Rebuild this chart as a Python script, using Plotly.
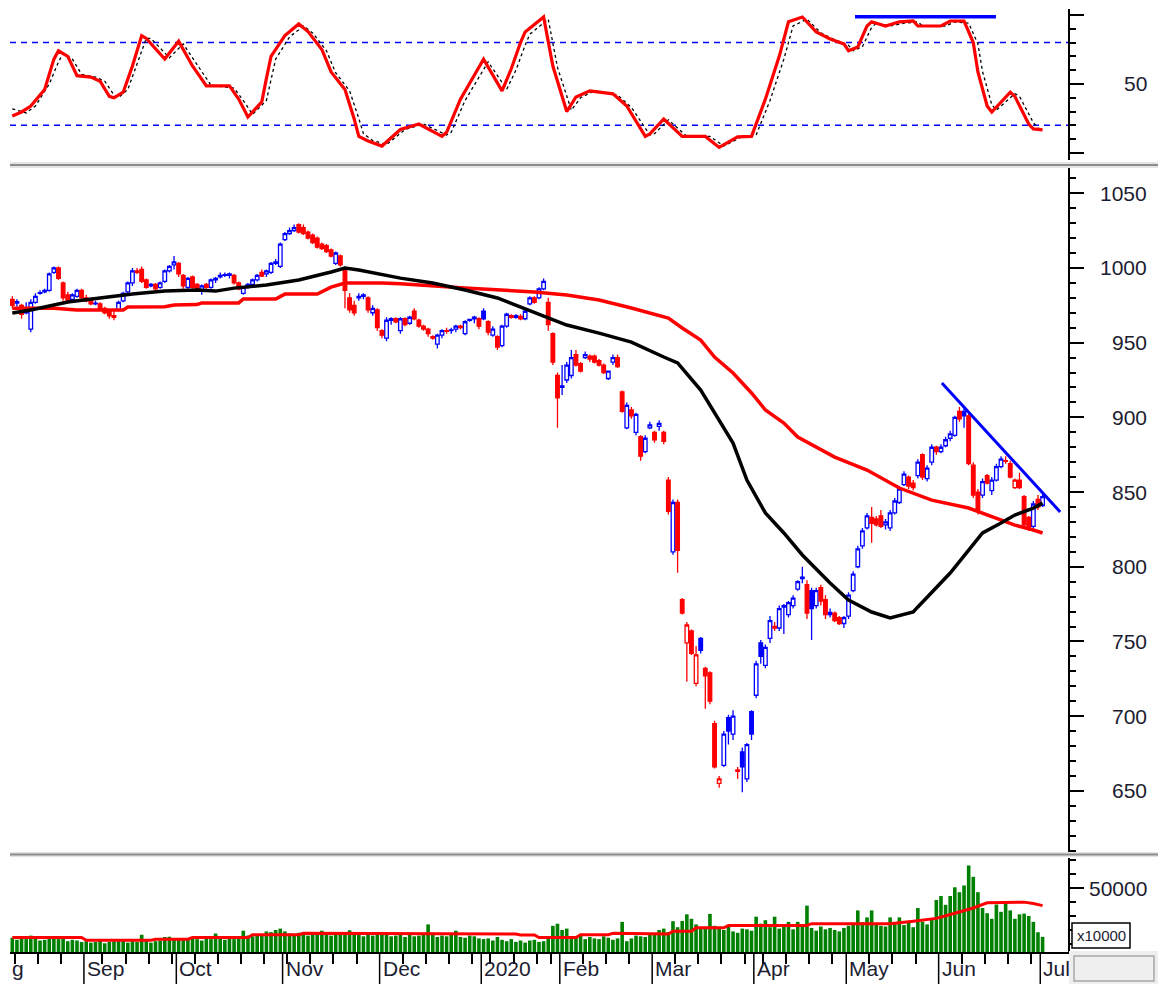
import pandas as pd
import plotly.graph_objects as go

# ---------------- calendar (trading days, HOSE) ----------------
holidays = ["2019-09-02", "2020-01-01", "2020-01-23", "2020-01-24", "2020-01-27",
            "2020-01-28", "2020-01-29", "2020-04-02", "2020-04-30", "2020-05-01"]
dates = pd.bdate_range("2019-08-09", "2020-07-01")
dates = dates[~dates.isin(pd.to_datetime(holidays))]

month_labels = ["Sep", "Oct", "Nov", "Dec", "2020", "Feb", "Mar", "Apr", "May", "Jun", "Jul"]

# ---------------- price data ----------------
open_ = [
    979, 976.5, 975, 970, 959, 977, 983, 984, 985, 997, 1000, 990, 982, 979, 981, 985,  # Aug
    980, 978, 976, 976, 973, 971, 968, 972, 978, 984, 990, 998, 999, 992, 988, 989, 987, 991, 998, 1002,  # Sep
    1003, 995, 987, 994, 989, 985, 989, 987, 992, 994, 995, 995, 995, 990, 983, 987, 989, 992, 997, 996, 997, 1003, 1001,  # Oct
    1019, 1023, 1025, 1029, 1027, 1024, 1022, 1020, 1016, 1015, 1012, 1003, 1008, 1000, 980, 975, 980, 981, 980, 970, 972,  # Nov
    958, 953, 965, 966, 958, 966, 963, 971, 965, 961, 959, 954, 949, 955, 958, 958, 959, 961, 956, 965, 966, 966,  # Dec
    971, 964, 955, 954, 948, 961, 968, 967, 967.5, 966, 976, 980, 980, 986, 977, 956, 928,  # Jan
    920, 925, 928, 942, 936, 940, 941, 941, 938, 935, 926, 937, 940, 917, 893, 905, 890, 887, 877, 893,  # Feb
    890, 894, 890, 858, 810, 843, 778, 749, 757, 722, 752, 732, 729, 695, 655, 667, 699, 688, 664, 676, 658, 703,  # Mar
    714, 749, 734, 752, 760, 759, 774, 768, 774, 785, 792, 788, 784, 774, 786, 778, 768, 769, 766, 762,  # Apr
    767, 784, 800, 814, 826, 833, 832, 834, 828, 826, 836, 843, 855, 860, 856, 861, 875, 859, 870, 880,  # May
    877, 881, 886, 888, 904, 904, 901, 868, 850, 848, 861, 851, 858, 867, 871, 869, 853, 858, 847, 833, 827, 845, 841,  # Jun-Jul
]
high = [
    981, 979, 976, 977, 979, 983, 985, 986, 997, 1001, 1001, 991, 984, 983, 986, 986,
    982, 980, 978, 977, 974, 972, 971, 978, 984, 991, 1000, 1000, 1001, 993, 990, 990, 991, 999, 1002, 1008,
    1004, 996, 994, 995, 990, 989, 990, 993, 994, 997, 997, 997, 996, 991, 988, 990, 993, 996, 999, 999, 1004, 1006, 1017,
    1024, 1027, 1029, 1030, 1029, 1025, 1023, 1021, 1017, 1016, 1013, 1011, 1009, 1001, 983, 978, 983, 983, 981, 975, 973,
    959, 967, 967, 967, 967, 967, 968, 973, 966, 962, 960, 955, 956, 959, 960, 960, 962, 962, 965, 966, 968, 967,
    973, 965, 961, 955, 962, 970, 969, 969, 969, 972, 981, 981, 987, 993, 980, 957, 930,
    935, 937, 945, 945, 937, 944, 942, 942, 939, 936, 931, 942, 942, 918, 910, 907, 903, 888, 888, 897,
    891, 898, 891, 860, 845, 845, 779, 763, 758, 747, 753, 733, 730, 697, 660, 690, 701, 704, 666, 679, 682, 704,
    737, 751, 748, 767, 763, 774, 775, 777, 781, 791, 800, 791, 786, 786, 788, 781, 772, 770, 767, 767,
    783, 797, 814, 826, 836, 840, 834, 838, 832, 838, 846, 854, 864, 861, 858, 872, 876, 868, 882, 881,
    882, 887, 891, 901, 907, 906, 903, 870, 852, 859, 862, 860, 869, 874, 874, 871, 859, 863, 848, 834, 844, 848, 849,
]
low = [
    973, 974, 966, 969, 957, 976, 982, 983, 984, 996, 992, 978, 976, 977, 980, 979,
    977, 975, 975, 972, 969, 966, 965, 971, 977, 983, 988, 996, 990, 986, 987, 985, 986, 990, 997, 999,
    994, 986, 986, 986, 985, 982, 986, 986, 990, 993, 994, 993, 989, 985, 982, 986, 988, 991, 994, 994, 996, 1002, 1000,
    1018, 1022, 1024, 1023, 1022, 1019, 1016, 1013, 1012, 1010, 1007, 1002, 1001, 973, 970, 968, 978, 979, 970, 968, 958,
    953, 951, 962, 963, 956, 961, 962, 965, 960, 958, 954, 952, 946, 953, 956, 956, 957, 959, 955, 964, 963, 959,
    965, 955, 954, 945, 947, 960, 966, 966, 965, 965, 975, 976, 979, 985, 958, 935, 893,
    915, 923, 926, 934, 930, 939, 937, 936, 934, 929, 925, 935, 933, 903, 892, 899, 888, 871, 876, 892,
    883, 891, 882, 835, 808, 796, 768, 723, 741, 720, 742, 705, 708, 665, 652, 666, 681, 684, 658, 649, 656, 684,
    712, 735, 732, 749, 757, 757, 755, 766, 772, 784, 789, 765, 751, 772, 774, 765, 766, 763, 761, 759,
    765, 783, 799, 812, 825, 816, 827, 826, 825, 824, 835, 842, 854, 852, 851, 859, 858, 857, 868, 875,
    876, 880, 884, 887, 897, 893, 868, 846, 835, 846, 855, 848, 857, 866, 869, 859, 852, 852, 826, 824, 825, 838, 840,
]
close = [
    975, 977.5, 969, 973, 977, 981, 983.5, 985, 996, 1000, 993, 980, 978, 982, 985, 980,
    978, 976, 976.5, 973, 970, 968, 967, 977, 983, 990, 998, 997, 991, 987, 989, 986, 990, 998, 1001, 1004,
    996, 988, 993, 987, 986, 988, 987, 992, 993, 995, 995.5, 996, 990, 986, 987, 989, 992, 995, 994.5, 998, 1003, 1004, 1016,
    1023, 1025, 1027, 1024, 1023, 1020, 1017, 1014, 1013, 1011, 1008, 1010, 1002, 985, 972, 970, 981, 982, 972, 973, 960,
    955, 965, 966, 964, 966, 962, 967, 966, 961, 959, 956, 953, 955, 958, 957.5, 958.5, 961, 960, 964, 965.5, 967, 961,
    966, 957, 959, 947, 961, 969, 967, 968, 966, 971, 980, 977, 986, 991, 962, 937, 913,
    921, 935, 940, 935, 931, 942, 939, 937, 935, 930, 931, 940, 934, 904, 908, 901, 902, 874, 886, 895,
    885, 896, 884, 837, 843, 811, 769, 761, 742, 741, 744, 727, 710, 666, 658, 688, 690, 700, 663, 666, 681, 688,
    735, 740, 746, 764, 759, 772, 773, 776, 779, 790, 793, 769, 772, 784, 777, 768, 769.5, 764, 762, 766,
    781, 795, 812, 824, 834, 829, 828, 827, 830, 836, 844, 852, 862, 854, 853, 870, 860, 866, 880, 877,
    880, 885, 889, 900, 899, 901, 869, 848, 838, 857, 856, 858, 867, 872, 870.5, 860, 858, 853, 828, 825, 842, 840, 847,
]
volume = [
    14500, 13000, 15500, 13500, 16000, 14000, 12500, 13000, 15000, 14500, 13500, 15000, 12000, 13000, 12500, 11500,
    12000, 11000, 11500, 12500, 10500, 11500, 12000, 13000, 12500, 11000, 12000, 11500, 16600, 12500, 11000, 12000, 12500, 15000, 15200, 13500,
    13500, 14000, 13000, 14500, 13500, 12500, 14000, 13500, 17500, 14000, 13000, 14500, 13500, 15000, 19500, 16000, 15500, 16500, 17000, 19000, 18500, 20000, 21000,
    19000, 17500, 16500, 18000, 17000, 16000, 17500, 16500, 19500, 17000, 16000, 17500, 16500, 18000, 19800, 17000, 16500, 15500, 17000, 16000, 17500,
    16500, 17000, 15500, 16000, 17000, 15000, 16500, 15500, 16000, 17000, 24000, 16500, 15000, 16000, 15500, 16500, 19500, 15000, 14500, 16000, 15500, 14000,
    13500, 14000, 12500, 15000, 13000, 12000, 13500, 11500, 12500, 11000, 12500, 13000, 11500, 12000, 14000, 23000, 24500,
    20000, 21000, 15500, 14500, 16000, 13500, 15000, 14000, 13500, 15500, 14500, 13000, 14000, 25800, 12000, 14000, 16000, 15500, 15000, 17000,
    16500, 20000, 21000, 18500, 26300, 22000, 26500, 31200, 28000, 24000, 22000, 21000, 31500, 23000, 21500, 20000, 22500, 19000, 18000, 21000, 20500, 19500,
    29500, 24500, 27000, 22000, 29500, 21000, 22500, 25800, 20500, 25800, 23000, 37400, 21500, 19500, 22500, 20500, 21500, 20000, 19000, 21500,
    23000, 24000, 34000, 25500, 29000, 34000, 24000, 23000, 22500, 29000, 24500, 29000, 23500, 25000, 22000, 35700, 26000, 24000, 28000, 41400,
    44300, 38000, 44300, 50500, 47000, 51800, 66100, 58000, 47000, 35700, 32000, 28000, 38200, 33000, 39400, 34000, 28000, 31200, 31700, 30000, 25800, 18400, 15100,
]

# moving averages (trading-day index, value)
ma_black_x = [0, 4, 12, 19, 26, 33, 40, 44, 48, 55, 62, 69, 72, 75, 77, 84, 91, 98, 105, 110, 116, 120, 127, 134,
              141, 144, 149, 156, 159, 163, 167, 171, 177, 181, 186, 190, 195, 196, 203, 210, 214, 217, 221, 223]
ma_black_y = [969.8, 971.8, 977.2, 979.9, 982.5, 984.5, 985.2, 984.5, 986.5, 988.6, 991.9, 997.3, 999.9, 998.6, 997.3,
              993.2, 989.9, 985.2, 979.9, 973.8, 967.1, 961.8, 956.4, 950.4, 940.4, 936.4, 918.3, 882.8, 858.0, 836.0,
              822.6, 807.9, 789.1, 777.7, 769.7, 765.7, 769.7, 773.1, 795.8, 822.6, 829.3, 834.6, 839.3, 842.6]
ma_red_x = [0, 9, 14, 24, 25, 33, 35, 40, 41, 49, 50, 57, 59, 66, 69, 72, 80, 84, 98, 113, 120, 127, 134, 142, 145,
            149, 152, 156, 160, 163, 167, 170, 178, 185, 192, 199, 207, 214, 217, 221, 223]
ma_red_y = [973, 973, 971.8, 971.8, 973.9, 974, 975.2, 975.5, 976.6, 976.6, 979.2, 979.2, 982.5, 982.5, 987.2, 989.9,
            989.9, 989.5, 986.6, 983.9, 981.9, 978.5, 973.2, 966.5, 959.8, 951.7, 940.4, 929.7, 916.3, 904.9, 896.2,
            886.8, 873.4, 864.7, 852.7, 844.6, 839.3, 831.3, 827.9, 824.6, 822.6]

# oscillator (stochastic)
osc_x = [0, 2, 4, 7, 9, 10, 12, 14, 17, 19, 21, 22, 24, 26, 28, 29, 33, 36, 39, 42, 47, 49, 51, 54, 55, 56, 59, 62, 64,
         67, 69, 72, 74, 75, 77, 80, 84, 88, 93, 94, 97, 102, 106, 108, 110, 111, 115, 117, 120, 122, 125, 130, 133,
         137, 138, 141, 145, 150, 153, 157, 160, 163, 166, 168, 171, 174, 177, 180, 181, 183, 185, 186, 189, 192, 195,
         196, 201, 203, 206, 208, 209, 211, 212, 214, 216, 217, 220, 221, 223]
osc_k = [26.8, 29.7, 34, 46, 68, 74, 70, 56, 55, 52, 41, 40, 44, 63, 85, 83, 68, 81, 63, 48.6, 48.6, 39, 26, 37, 54, 70,
         85, 93.5, 88, 75, 58.7, 46, 24.6, 12, 8.7, 5, 17, 21, 12, 15, 39, 68, 45, 61, 80, 87.7, 98.5, 63, 30, 40.6, 45,
         42.8, 34, 12, 13.8, 24.6, 12, 12, 4, 11.6, 12, 39, 70, 95, 98.5, 87.7, 82.6, 79, 74, 76.8, 92, 95, 92, 95, 95.6,
         92, 92, 95.6, 95.6, 80, 58.7, 34, 29.7, 37, 44, 41, 21, 17.4, 16.7]
sig_x = [0, 3, 5, 8, 10, 11, 13, 15, 18, 20, 22, 23, 25, 27, 29, 30, 34, 37, 40, 43, 48, 50, 52, 55, 56, 57, 60, 63, 65,
         68, 70, 73, 75, 76, 78, 81, 85, 89, 94, 95, 98, 103, 107, 109, 111, 112, 116, 118, 121, 123, 126, 131, 134,
         138, 139, 142, 146, 151, 154, 158, 161, 164, 167, 169, 172, 175, 178, 181, 182, 184, 186, 187, 190, 193, 196,
         197, 202, 204, 207, 209, 210, 212, 213, 215, 217, 218, 221, 222, 223]
sig_d = [32, 29, 34, 50, 66, 72, 68, 57, 55, 52, 42, 40, 46, 64, 83, 83, 69, 79, 64, 49, 47, 38, 28, 38, 53, 68, 84, 92,
         87, 74, 58, 45, 25, 14, 9, 6, 17, 21, 13, 15, 38, 66, 46, 60, 78, 86, 97, 62, 31, 40, 45, 42, 33, 13, 14, 24,
         12, 12, 5, 12, 13, 38, 68, 92, 97, 87, 82, 78, 74, 77, 91, 94, 92, 94, 95, 92, 92, 95, 94, 79, 59, 35, 31, 37,
         43, 41, 22, 18, 17]
vol_ma_x = [0, 15, 16, 30, 31, 38, 39, 51, 52, 62, 63, 75, 76, 109, 110, 113, 114, 122, 123, 129, 130, 134, 135, 142,
            143, 147, 148, 154, 155, 172, 173, 190, 195, 200, 204, 208, 211, 216, 219, 221, 223]
vol_ma = [14600, 14600, 12700, 12700, 13400, 13400, 14600, 14600, 16600, 16600, 17600, 17600, 17100, 17100, 16400,
          16400, 14600, 14600, 16600, 16600, 17600, 17600, 17100, 17100, 19100, 19100, 21600, 21600, 23300, 23300,
          24500, 24500, 26300, 28300, 32000, 35700, 39400, 39900, 39900, 38900, 37400]

# hand-drawn trend lines (index, value)
trend_main_x = [201.2, 226.8]
trend_main_y = [923, 836.7]
trend_osc_x = [182.4, 212.9]
trend_osc_y = [98.6, 98.6]

# ---------------- derived positions ----------------
N = len(close)
xi = list(range(N))
month_start = [i for i in range(1, N) if dates[i].month != dates[i - 1].month]
week_start = [i for i in range(1, N)
              if dates[i].isocalendar()[1] != dates[i - 1].isocalendar()[1] and i not in month_start]

# The page body adds an 8px margin, so the figure is made 8px smaller and all
# screen positions below are given in screen pixels and shifted by OFF.
SW, SH = 1166, 984          # screen (window) size
OFF = 8
W, H = SW - OFF, SH - OFF   # figure size
L_PX, R_PX = 10, 1068       # plot-area edges in screen pixels


def py(p):  # screen row -> paper y
    return 1 - (p - OFF) / H


def px(p):  # screen column -> paper x
    return (p - L_PX) / (R_PX - L_PX)


BLUE, RED, GREEN = "#0000ff", "#ff0000", "#008000"
TXT = "#1c1c30"
FONT = "Liberation Sans, Arial, sans-serif"

fig = go.Figure()

# volume
fig.add_trace(go.Bar(x=xi, y=volume, width=0.78, marker=dict(color=GREEN, line=dict(width=0)),
                     yaxis="y3", hoverinfo="skip"))
fig.add_trace(go.Scatter(x=vol_ma_x, y=vol_ma, mode="lines", line=dict(color=RED, width=3),
                         yaxis="y3", hoverinfo="skip"))

# oscillator
fig.add_trace(go.Scatter(x=sig_x, y=sig_d, mode="lines", line=dict(color="black", width=1.3, dash="3px,3px"),
                         yaxis="y", hoverinfo="skip"))
fig.add_trace(go.Scatter(x=osc_x, y=osc_k, mode="lines", line=dict(color=RED, width=3.2),
                         yaxis="y", hoverinfo="skip"))
fig.add_trace(go.Scatter(x=trend_osc_x, y=trend_osc_y, mode="lines", line=dict(color=BLUE, width=3.5),
                         yaxis="y", hoverinfo="skip"))

# moving averages
fig.add_trace(go.Scatter(x=ma_red_x, y=ma_red_y, mode="lines", line=dict(color=RED, width=3.5),
                         yaxis="y2", hoverinfo="skip"))
fig.add_trace(go.Scatter(x=ma_black_x, y=ma_black_y, mode="lines", line=dict(color="black", width=3.5),
                         yaxis="y2", hoverinfo="skip"))

# candles: colour by close vs previous close, hollow when close > open
up = [i for i in range(1, N) if close[i] >= close[i - 1]]
dn = [i for i in range(N) if i not in up]
for sel, col in ((up, BLUE), (dn, RED)):
    fig.add_trace(go.Candlestick(
        x=[xi[i] for i in sel], open=[open_[i] for i in sel], high=[high[i] for i in sel],
        low=[low[i] for i in sel], close=[close[i] for i in sel],
        increasing=dict(line=dict(color=col, width=1.3), fillcolor="white"),
        decreasing=dict(line=dict(color=col, width=1.3), fillcolor=col),
        whiskerwidth=0, yaxis="y2", hoverinfo="skip"))

fig.add_trace(go.Scatter(x=trend_main_x, y=trend_main_y, mode="lines", line=dict(color=BLUE, width=3),
                         yaxis="y2", hoverinfo="skip"))

shapes = []
annotations = []

# oscillator reference levels
for lvl in (80, 20):
    shapes.append(dict(type="line", xref="paper", yref="y", x0=0, x1=1, y0=lvl, y1=lvl,
                       line=dict(color=BLUE, width=1.5, dash="6px,5px"), layer="below"))

# panel separators
for top, bot in ((162, 168), (852, 857)):
    shapes.append(dict(type="rect", xref="paper", yref="paper", x0=0, x1=px(SW), y0=py(bot), y1=py(top),
                       fillcolor="#e4e4e4", line=dict(width=0)))
    shapes.append(dict(type="line", xref="paper", yref="paper", x0=0, x1=px(SW),
                       y0=py((top + bot) / 2), y1=py((top + bot) / 2), line=dict(color="#8c8c8c", width=2)))

# month ticks and labels
for i, lab in zip(month_start, month_labels):
    shapes.append(dict(type="line", xref="x", yref="paper", x0=i - 0.5, x1=i - 0.5, y0=py(SH), y1=py(952),
                       line=dict(color="black", width=1.5)))
    annotations.append(dict(x=i - 0.5, y=py(955), xref="x", yref="paper", text=lab, showarrow=False,
                            xanchor="left", yanchor="top", xshift=1, font=dict(size=21, color=TXT, family=FONT)))
annotations.append(dict(x=0, y=py(955), xref="paper", yref="paper", text="g", showarrow=False,
                        xanchor="left", yanchor="top", font=dict(size=21, color=TXT, family=FONT)))

# right-hand value labels
LAB_X = px(1149)
for v in range(650, 1051, 50):
    annotations.append(dict(x=LAB_X, y=v, xref="paper", yref="y2", text=str(v), showarrow=False,
                            xanchor="right", yanchor="middle", font=dict(size=21, color=TXT, family=FONT)))
annotations.append(dict(x=LAB_X, y=50, xref="paper", yref="y", text="50", showarrow=False,
                        xanchor="right", yanchor="middle", font=dict(size=21, color=TXT, family=FONT)))
annotations.append(dict(x=LAB_X, y=50000, xref="paper", yref="y3", text="50000", showarrow=False,
                        xanchor="right", yanchor="middle", font=dict(size=21, color=TXT, family=FONT)))

# multiplier box and bottom-right widget
shapes.append(dict(type="rect", xref="paper", yref="paper", x0=px(1072), x1=px(1130), y0=py(948), y1=py(923),
                   fillcolor="white", line=dict(color="black", width=1.5)))
annotations.append(dict(x=px(1101), y=py(935.5), xref="paper", yref="paper", text="x10000", showarrow=False,
                        xanchor="center", yanchor="middle", font=dict(size=15, color=TXT, family=FONT)))
shapes.append(dict(type="rect", xref="paper", yref="paper", x0=px(1069), x1=px(SW), y0=py(SH), y1=py(951),
                   fillcolor="#eeeeee", line=dict(width=0)))
shapes.append(dict(type="rect", xref="paper", yref="paper", x0=px(1074), x1=px(1154), y0=py(981), y1=py(956),
                   fillcolor="#efefef", line=dict(color="#a8a8a8", width=1.5)))

axis_common = dict(side="right", anchor="x", showgrid=False, zeroline=False, showline=True,
                   linecolor="black", linewidth=1.5, ticks="outside", tickcolor="black", tickwidth=1.5,
                   ticklen=14, showticklabels=False, fixedrange=True)

fig.update_layout(
    width=W, height=H,
    margin=dict(l=L_PX - OFF, r=SW - R_PX, t=0, b=0, autoexpand=False),
    paper_bgcolor="white", plot_bgcolor="white", showlegend=False,
    boxgap=0.12, boxgroupgap=0.12,
    xaxis=dict(domain=[0, 1], range=[-0.5, 228.5], anchor="y3", showgrid=False, zeroline=False,
               showline=True, linecolor="black", linewidth=1.5, ticks="outside", ticklen=10,
               tickcolor="black", tickwidth=1.5, tickvals=[i - 0.5 for i in week_start],
               showticklabels=False, rangeslider=dict(visible=False), fixedrange=True),
    yaxis=dict(domain=[py(160), py(9)], range=[-5.1, 104.3], tick0=0, dtick=50,
               minor=dict(ticks="outside", ticklen=6, tickcolor="black", dtick=10, tick0=0, showgrid=False),
               **axis_common),
    yaxis2=dict(domain=[py(853), py(168)], range=[608.4, 1066.9], tick0=0, dtick=50,
                minor=dict(ticks="outside", ticklen=6, tickcolor="black", dtick=10, tick0=0, showgrid=False),
                **axis_common),
    yaxis3=dict(domain=[py(952), py(858)], range=[4290, 71430], tick0=0, dtick=50000,
                minor=dict(ticks="outside", ticklen=6, tickcolor="black", dtick=10000, tick0=0, showgrid=False),
                **axis_common),
    shapes=shapes, annotations=annotations,
)

fig.write_html("out.html")
